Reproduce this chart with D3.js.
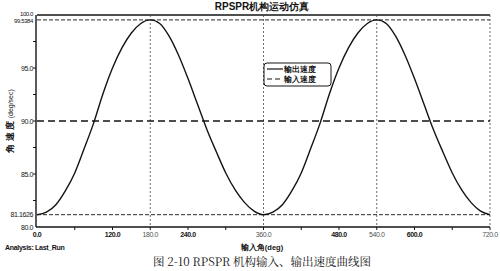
<!DOCTYPE html>
<html>
<head>
<meta charset="utf-8">
<script src="https://cdn.jsdelivr.net/npm/d3@7"></script>
<style>
  body { margin: 0; background: #fff; }
  svg { display: block; font-family: "Liberation Sans", Arial, sans-serif; }
</style>
</head>
<body>
<div id="chart"></div>
<script>
// input angle (deg) and output angular speed (deg/sec)
const angles = [0,15,30,45,60,75,90,105,120,135,150,165,180,195,210,225,240,255,270,285,300,315,330,345,
  360,375,390,405,420,435,450,465,480,495,510,525,540,555,570,585,600,615,630,645,660,675,690,705,720];
const outSpeed = [81.16,81.4,82.1,83.4,85.1,87.4,89.8,92.6,95.0,96.9,98.3,99.2,99.54,99.2,98.0,96.2,94.0,91.6,89.2,87.1,85.1,83.5,82.3,81.5,
  81.16,81.4,82.1,83.4,85.1,87.4,89.8,92.6,95.0,96.9,98.3,99.2,99.54,99.2,98.0,96.2,94.0,91.6,89.2,87.1,85.1,83.5,82.3,81.5,81.16];
const inSpeed = 90;
const xLabelTicks = [0,120,240,480,600];
const xRefTicks = [180,360,540,720];
const xMinorTicks = [60,120,180,240,300,360,420,480,540,600,660,720];
const yLabelTicks = [80,85,90,95];
const yMinorTicks = [82.5,85,87.5,90,92.5,95,97.5];
const yRefValues = [81.1626, 99.5384];
const legendNames = ['输出速度', '输入速度'];

const width = 500, height = 271;
const margin = {top: 15, right: 10, bottom: 44, left: 36};
const ink = '#141414';

const svg = d3.select('#chart').append('svg')
  .attr('width', width).attr('height', height);

const x = d3.scaleLinear().domain([0, 720]).range([margin.left + 1, width - margin.right]);
const y = d3.scaleLinear().domain([80, 100]).range([height - margin.bottom, margin.top]);

// title
svg.append('text')
  .attr('x', 262).attr('y', 10)
  .attr('text-anchor', 'middle')
  .attr('font-size', 10).attr('font-weight', 'bold')
  .attr('fill', ink)
  .text('RPSPR机构运动仿真');

// top border
svg.append('line')
  .attr('x1', x(0)).attr('x2', x(720))
  .attr('y1', y(100)).attr('y2', y(100))
  .attr('stroke', ink).attr('stroke-width', 1.6);

// dashed reference lines
svg.append('g').selectAll('line.href')
  .data(yRefValues).enter().append('line')
  .attr('x1', x(0)).attr('x2', x(720))
  .attr('y1', d => y(d)).attr('y2', d => y(d))
  .attr('stroke', ink).attr('stroke-width', 0.9)
  .attr('stroke-dasharray', '4,2');

svg.append('g').selectAll('line.vref')
  .data(xRefTicks).enter().append('line')
  .attr('x1', d => x(d)).attr('x2', d => x(d))
  .attr('y1', y(100)).attr('y2', y(80))
  .attr('stroke', '#444').attr('stroke-width', 0.8)
  .attr('stroke-dasharray', '2,2');

// input speed line
svg.append('line')
  .attr('x1', x(0)).attr('x2', x(720))
  .attr('y1', y(inSpeed)).attr('y2', y(inSpeed))
  .attr('stroke', ink).attr('stroke-width', 1.5)
  .attr('stroke-dasharray', '7,4');

// output speed curve
const line = d3.line()
  .x((d, i) => x(angles[i]))
  .y(d => y(d))
  .curve(d3.curveMonotoneX);

svg.append('path')
  .datum(outSpeed)
  .attr('d', line)
  .attr('fill', 'none')
  .attr('stroke', ink).attr('stroke-width', 1.4);

// y axis
const yAxis = svg.append('g')
  .attr('transform', `translate(${margin.left},0)`);
yAxis.append('line')
  .attr('x1', 0).attr('x2', 0)
  .attr('y1', y(100)).attr('y2', y(80))
  .attr('stroke', ink).attr('stroke-width', 1.4);
yAxis.selectAll('line.tick')
  .data(yMinorTicks).enter().append('line')
  .attr('x1', -3).attr('x2', 0)
  .attr('y1', d => y(d)).attr('y2', d => y(d))
  .attr('stroke', ink);
yAxis.selectAll('text.lab')
  .data(yLabelTicks).enter().append('text')
  .attr('x', -3).attr('y', d => y(d) + 2.5)
  .attr('text-anchor', 'end')
  .attr('font-size', 7).attr('fill', ink)
  .attr('letter-spacing', -0.4)
  .text(d => d.toFixed(1));
// 100.0 sits just above the 99.5384 label, as in the original
yAxis.append('text')
  .attr('x', -3).attr('y', y(100) + 0.5)
  .attr('text-anchor', 'end')
  .attr('font-size', 6).attr('fill', ink)
  .attr('letter-spacing', -0.4)
  .text((100).toFixed(1));
yAxis.selectAll('text.ref')
  .data(yRefValues).enter().append('text')
  .attr('x', -3).attr('y', (d, i) => y(d) + (i ? 3.5 : 2.5))
  .attr('text-anchor', 'end')
  .attr('font-size', (d, i) => i ? 6 : 7).attr('fill', ink)
  .attr('letter-spacing', -0.4)
  .text(d => d.toFixed(4));

// x axis
const xAxis = svg.append('g')
  .attr('transform', `translate(0,${y(80)})`);
xAxis.append('line')
  .attr('x1', margin.left).attr('x2', x(720))
  .attr('y1', 0).attr('y2', 0)
  .attr('stroke', ink).attr('stroke-width', 1.6);
xAxis.selectAll('line.tick')
  .data(xMinorTicks).enter().append('line')
  .attr('x1', d => x(d)).attr('x2', d => x(d))
  .attr('y1', 0).attr('y2', 3)
  .attr('stroke', ink);
xAxis.selectAll('text.lab')
  .data(xLabelTicks).enter().append('text')
  .attr('x', d => x(d)).attr('y', 10)
  .attr('text-anchor', 'middle')
  .attr('font-size', 7).attr('font-weight', 'bold').attr('fill', ink)
  .attr('letter-spacing', -0.4)
  .text(d => d.toFixed(1));
xAxis.selectAll('text.ref')
  .data(xRefTicks).enter().append('text')
  .attr('x', d => x(d)).attr('y', 10)
  .attr('text-anchor', 'middle')
  .attr('font-size', 7).attr('fill', '#555')
  .attr('letter-spacing', -0.4)
  .text(d => d.toFixed(1));

// axis titles
svg.append('text')
  .attr('x', 262).attr('y', 250)
  .attr('text-anchor', 'middle')
  .attr('font-size', 7.5).attr('font-weight', 'bold').attr('fill', ink)
  .text('输入角(deg)');
svg.append('text')
  .attr('x', 5).attr('y', 250)
  .attr('font-size', 7).attr('font-weight', 'bold').attr('fill', ink)
  .attr('letter-spacing', -0.3)
  .text('Analysis:  Last_Run');
svg.append('text')
  .attr('transform', `translate(13,${y(90)}) rotate(-90)`)
  .attr('text-anchor', 'middle')
  .attr('font-size', 9).attr('font-weight', 'bold').attr('fill', ink)
  .html('角 速 度 <tspan font-size="7" font-weight="normal">(deg/sec)</tspan>');

// legend
const legend = svg.append('g').attr('transform', 'translate(264,63)');
legend.append('rect')
  .attr('width', 67).attr('height', 23).attr('rx', 3)
  .attr('fill', '#fff').attr('stroke', ink).attr('stroke-width', 1);
legend.selectAll('line')
  .data(legendNames).enter().append('line')
  .attr('x1', 3).attr('x2', 19)
  .attr('y1', (d, i) => 6 + i * 10).attr('y2', (d, i) => 6 + i * 10)
  .attr('stroke', ink).attr('stroke-width', 1.2)
  .attr('stroke-dasharray', (d, i) => i ? '5,3' : null);
legend.selectAll('text')
  .data(legendNames).enter().append('text')
  .attr('x', 20).attr('y', (d, i) => 9 + i * 10)
  .attr('font-size', 7.5).attr('font-weight', 'bold').attr('fill', ink)
  .text(d => d);

// caption
svg.append('text')
  .attr('x', 262).attr('y', 266)
  .attr('text-anchor', 'middle')
  .attr('font-size', 11.5)
  .attr('font-family', '"Noto Serif CJK SC", "DejaVu Serif", "Liberation Serif", serif')
  .attr('fill', ink)
  .text('图 2-10 RPSPR 机构输入、输出速度曲线图');
</script>
</body>
</html>
